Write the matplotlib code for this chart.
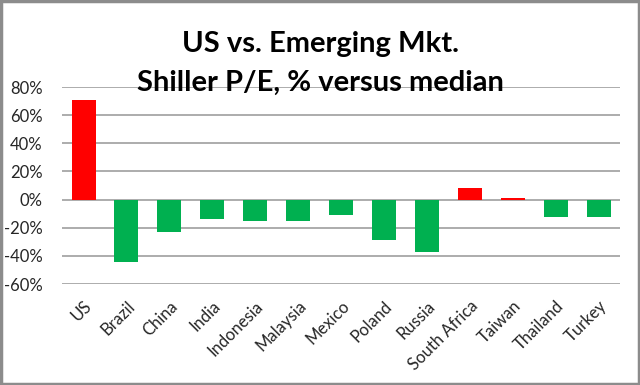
import numpy as np
import matplotlib.pyplot as plt
from matplotlib.ticker import FuncFormatter

countries = ["US", "Brazil", "China", "India", "Indonesia", "Malaysia", "Mexico",
             "Poland", "Russia", "South Africa", "Taiwan", "Thailand", "Turkey"]
pct_vs_median = [70.5, -44, -23, -14, -15.5, -15.5, -11, -29, -37, 8, 1.5, -12, -12]

RED = "#FF0000"
GREEN = "#00B050"

plt.rcParams["font.family"] = ["Lato", "DejaVu Sans"]

fig = plt.figure(figsize=(6.4, 3.85), dpi=100)
ax = fig.add_axes([0.097, 0.262, 0.872, 0.512])

colors = [RED if v > 0 else GREEN for v in pct_vs_median]
x = np.arange(len(countries))
ax.bar(x, pct_vs_median, width=0.56, color=colors, zorder=3)

ax.set_ylim(-60, 80)
ax.set_yticks(range(-60, 81, 20))
ax.yaxis.set_major_formatter(FuncFormatter(lambda v, _: f"{v:.0f}%"))
ax.set_xlim(-0.5, len(countries) - 0.5)
ax.set_xticks(x)
ax.set_xticklabels(countries, rotation=45, ha="right", rotation_mode="anchor")
ax.tick_params(axis="both", length=0, labelsize=12, colors="#262626")
ax.tick_params(axis="x", pad=10)
ax.tick_params(axis="y", pad=14)
ax.grid(axis="y", color="#A6A6A6", linewidth=1.3, zorder=0)
for s in ax.spines.values():
    s.set_visible(False)

fig.text(0.5, 0.885, "US vs. Emerging Mkt.", ha="center", va="center",
         fontsize=21, fontweight="bold")
fig.text(0.5, 0.785, "Shiller P/E, % versus median", ha="center", va="center",
         fontsize=21, fontweight="bold")

border = plt.Rectangle((0.002, 0.003), 0.996, 0.994, transform=fig.transFigure,
                       fill=False, edgecolor="#8C8C8C", linewidth=2.5)
fig.patches.append(border)

fig.savefig("out.png", dpi=100)
